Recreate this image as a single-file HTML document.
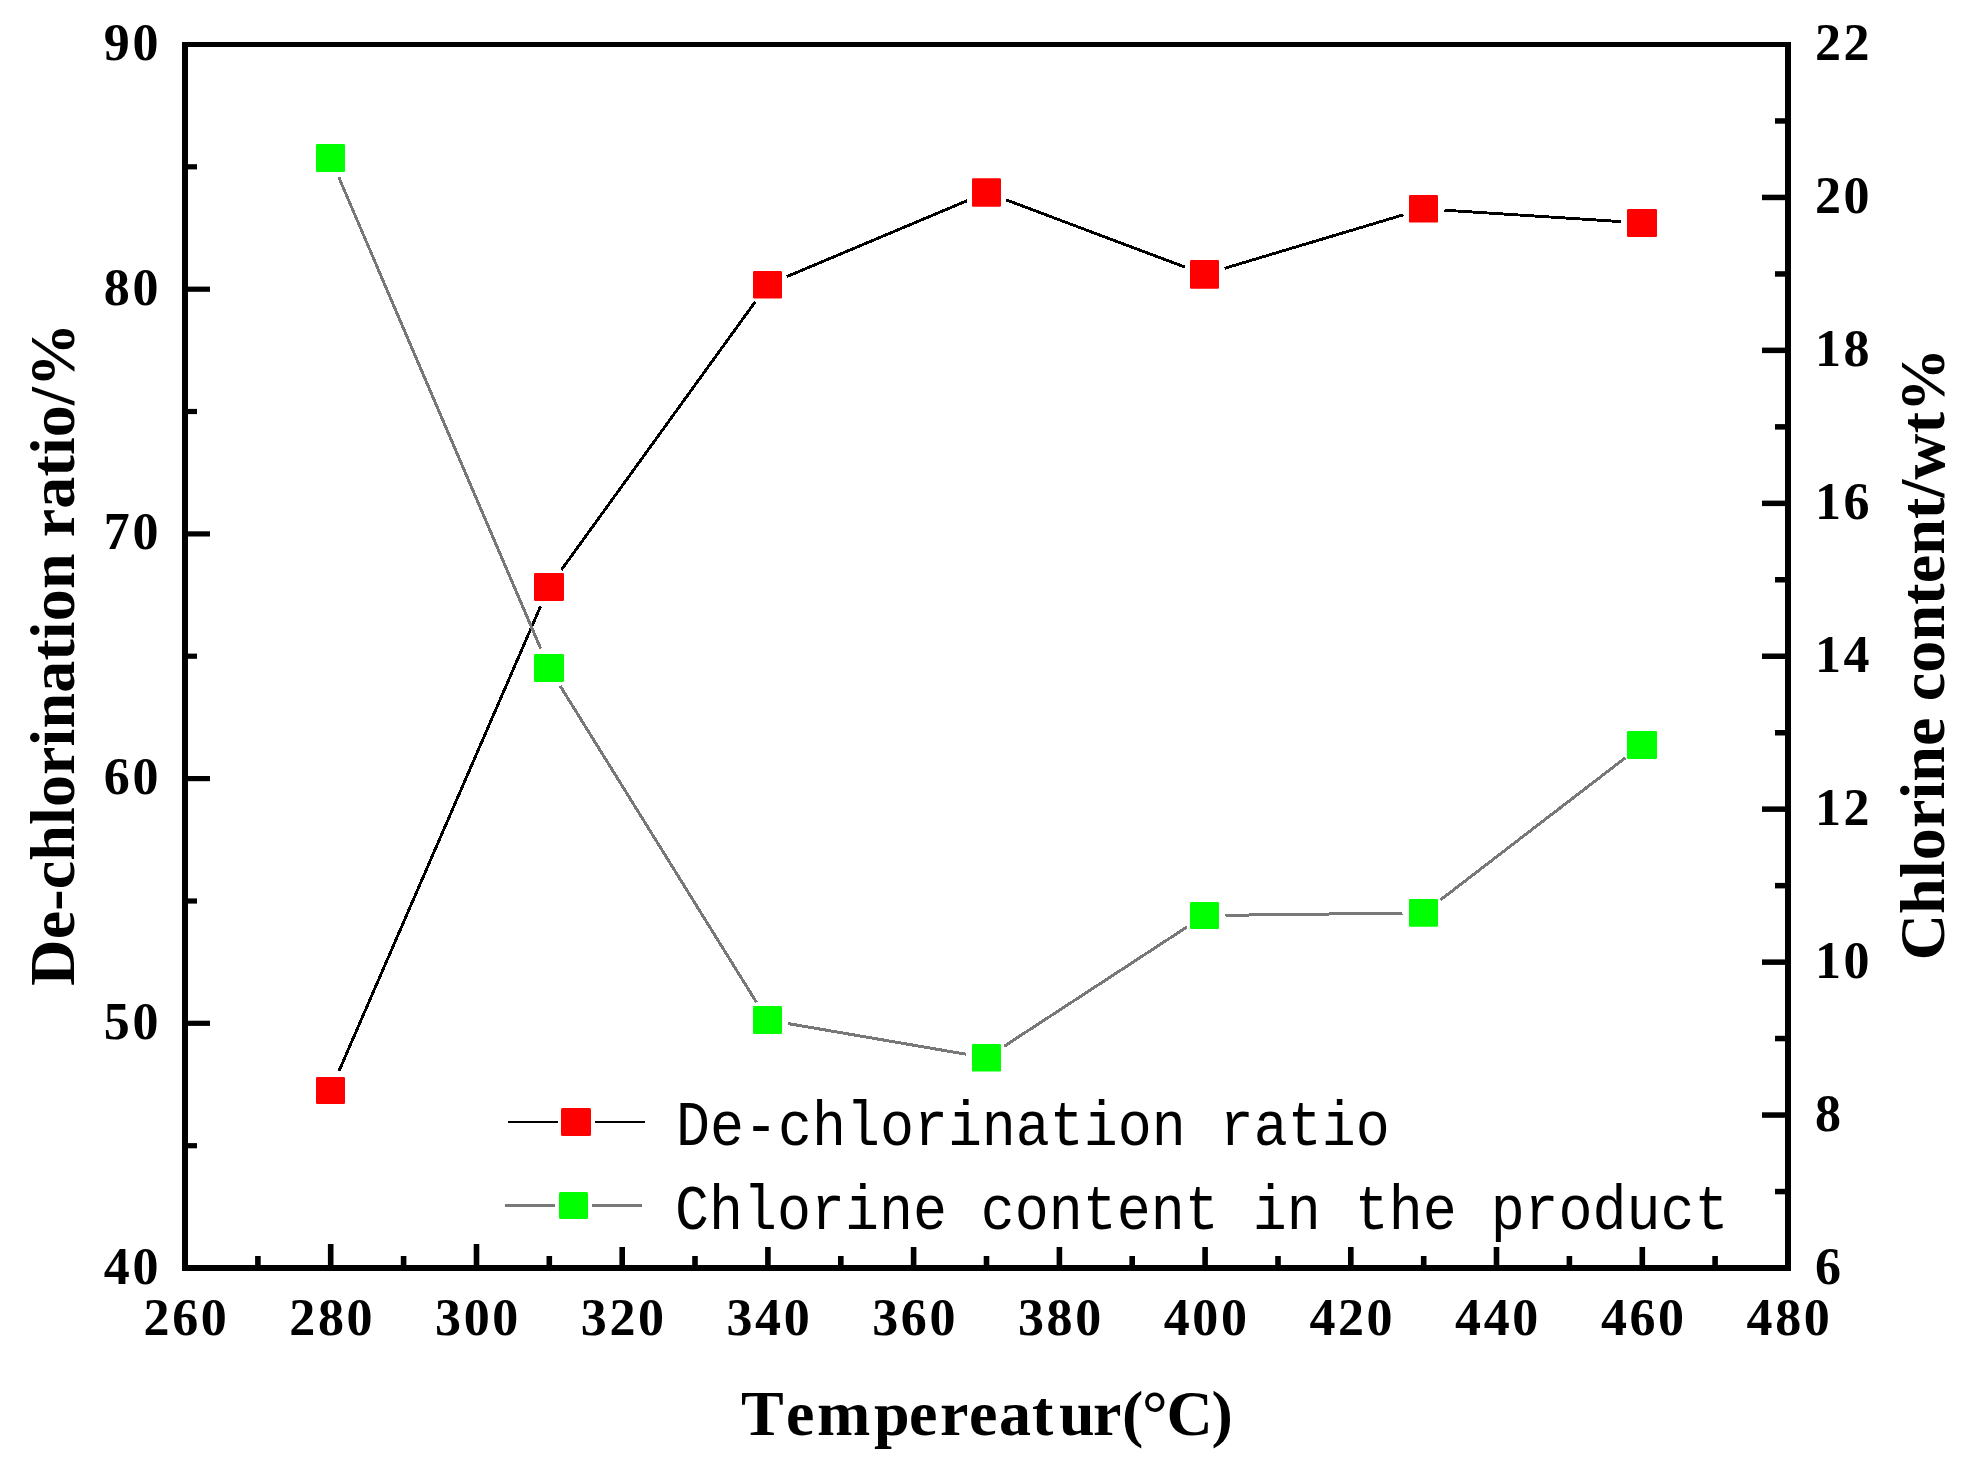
<!DOCTYPE html>
<html lang="en"><head><meta charset="utf-8"><title>De-chlorination ratio and chlorine content vs temperature</title>
<style>
html,body{margin:0;padding:0;background:#fff}
body{width:1977px;height:1474px;overflow:hidden}
svg{display:block}
text{font-family:"Liberation Serif",serif;font-weight:bold;fill:#000;font-kerning:none}
.tk{font-size:52px;letter-spacing:2.6px}
.ti{font-size:64px}
.vt{letter-spacing:.14px}
.lg{font-family:"Liberation Mono",monospace;font-weight:normal;font-size:56.65px}
</style></head><body>
<svg width="1977" height="1474" viewBox="0 0 1977 1474">
<rect width="1977" height="1474" fill="#fff"/>
<g stroke="#000" stroke-width="2.9" stroke-linecap="butt" shape-rendering="crispEdges"><line x1="338.9" y1="1071.2" x2="540.6" y2="606.3"/><line x1="561.3" y1="570.0" x2="755.2" y2="301.8"/><line x1="786.9" y1="276.6" x2="967.1" y2="200.7"/><line x1="1006.2" y1="199.9" x2="1184.8" y2="267.0"/><line x1="1224.6" y1="268.3" x2="1403.4" y2="214.8"/><line x1="1444.5" y1="210.2" x2="1621.0" y2="221.6"/></g>
<g stroke="#787878" stroke-width="3.0" stroke-linecap="butt" shape-rendering="crispEdges"><line x1="338.8" y1="177.3" x2="540.7" y2="648.7"/><line x1="560.1" y1="685.8" x2="756.4" y2="1002.2"/><line x1="788.2" y1="1023.6" x2="965.8" y2="1054.2"/><line x1="1004.1" y1="1046.3" x2="1186.9" y2="927.0"/><line x1="1225.5" y1="915.3" x2="1402.5" y2="913.1"/><line x1="1440.2" y1="900.1" x2="1625.3" y2="757.8"/></g>
<g fill="#f00"><rect x="316" y="1077" width="29" height="27" rx="1.2"/><rect x="534" y="573" width="30" height="28" rx="1.2"/><rect x="753" y="271" width="29" height="27.5" rx="1.2"/><rect x="972" y="178.3" width="29" height="28.5" rx="1.2"/><rect x="1190" y="260" width="29" height="28.7" rx="1.2"/><rect x="1409" y="195" width="29" height="27.6" rx="1.2"/><rect x="1627" y="209" width="30" height="28" rx="1.2"/></g>
<g fill="#0f0"><rect x="316" y="144" width="29" height="28" rx="1.2"/><rect x="534" y="654" width="30" height="28" rx="1.2"/><rect x="753" y="1006" width="29" height="28" rx="1.2"/><rect x="972" y="1044" width="29" height="27.6" rx="1.2"/><rect x="1190" y="902" width="29" height="27" rx="1.2"/><rect x="1409" y="899" width="29" height="27.8" rx="1.2"/><rect x="1627" y="731" width="30" height="28" rx="1.2"/></g>
<g fill="#000">
<rect x="182" y="42" width="6" height="1229"/>
<rect x="1785" y="42" width="6" height="1229"/>
<rect x="182" y="42" width="1609" height="5"/>
<rect x="182" y="1265" width="1609" height="6"/>
<rect x="255.1" y="1256" width="5.6" height="10"/>
<rect x="327.9" y="1244" width="5.6" height="22"/>
<rect x="400.8" y="1256" width="5.6" height="10"/>
<rect x="473.7" y="1244" width="5.6" height="22"/>
<rect x="546.5" y="1256" width="5.6" height="10"/>
<rect x="619.4" y="1247" width="5.6" height="19"/>
<rect x="692.2" y="1256" width="5.6" height="10"/>
<rect x="765.1" y="1247" width="5.6" height="19"/>
<rect x="838.0" y="1256" width="5.6" height="10"/>
<rect x="910.8" y="1247" width="5.6" height="19"/>
<rect x="983.7" y="1256" width="5.6" height="10"/>
<rect x="1056.6" y="1247" width="5.6" height="19"/>
<rect x="1129.4" y="1256" width="5.6" height="10"/>
<rect x="1202.3" y="1247" width="5.6" height="19"/>
<rect x="1275.2" y="1256" width="5.6" height="10"/>
<rect x="1348.0" y="1247" width="5.6" height="19"/>
<rect x="1420.9" y="1256" width="5.6" height="10"/>
<rect x="1493.7" y="1247" width="5.6" height="19"/>
<rect x="1566.6" y="1256" width="5.6" height="10"/>
<rect x="1639.5" y="1247" width="5.6" height="19"/>
<rect x="1712.3" y="1256" width="5.6" height="10"/>
<rect x="187" y="1143.1" width="10" height="5.2"/>
<rect x="187" y="1020.7" width="23" height="5.2"/>
<rect x="187" y="898.4" width="10" height="5.2"/>
<rect x="187" y="776.0" width="23" height="5.2"/>
<rect x="187" y="653.6" width="10" height="5.2"/>
<rect x="187" y="531.3" width="23" height="5.2"/>
<rect x="187" y="408.9" width="10" height="5.2"/>
<rect x="187" y="286.6" width="23" height="5.2"/>
<rect x="187" y="164.2" width="10" height="5.2"/>
<rect x="1775" y="1188.8" width="11" height="5.5"/>
<rect x="1762" y="1112.3" width="24" height="5.5"/>
<rect x="1775" y="1035.8" width="11" height="5.5"/>
<rect x="1762" y="959.4" width="24" height="5.5"/>
<rect x="1775" y="882.9" width="11" height="5.5"/>
<rect x="1762" y="806.4" width="24" height="5.5"/>
<rect x="1775" y="730.0" width="11" height="5.5"/>
<rect x="1762" y="653.5" width="24" height="5.5"/>
<rect x="1775" y="577.0" width="11" height="5.5"/>
<rect x="1762" y="500.6" width="24" height="5.5"/>
<rect x="1775" y="424.1" width="11" height="5.5"/>
<rect x="1762" y="347.6" width="24" height="5.5"/>
<rect x="1775" y="271.2" width="11" height="5.5"/>
<rect x="1762" y="194.7" width="24" height="5.5"/>
<rect x="1775" y="118.2" width="11" height="5.5"/>
</g>
<g class="tk" text-anchor="middle">
<text x="186.5" y="1335">260</text>
<text x="332.2" y="1335">280</text>
<text x="478.0" y="1335">300</text>
<text x="623.7" y="1335">320</text>
<text x="769.4" y="1335">340</text>
<text x="915.1" y="1335">360</text>
<text x="1060.9" y="1335">380</text>
<text x="1206.6" y="1335">400</text>
<text x="1352.3" y="1335">420</text>
<text x="1498.0" y="1335">440</text>
<text x="1643.8" y="1335">460</text>
<text x="1789.5" y="1335">480</text>
</g><g class="tk" text-anchor="end">
<text x="161" y="1283.5">40</text>
<text x="161" y="1038.8">50</text>
<text x="161" y="794.1">60</text>
<text x="161" y="549.4">70</text>
<text x="161" y="304.7">80</text>
<text x="161" y="60.0">90</text>
</g><g class="tk" text-anchor="start">
<text x="1815" y="1283.5">6</text>
<text x="1815" y="1130.6">8</text>
<text x="1815" y="977.6">10</text>
<text x="1815" y="824.7">12</text>
<text x="1815" y="671.8">14</text>
<text x="1815" y="518.8">16</text>
<text x="1815" y="365.9">18</text>
<text x="1815" y="212.9">20</text>
<text x="1815" y="60.0">22</text>
</g>
<text class="ti vt" text-anchor="middle" transform="translate(74 654.3) rotate(-90)">De-chlorination ratio/%</text>
<text class="ti vt" text-anchor="middle" transform="translate(1943.5 654) rotate(-90)">Chlorine content/wt%</text>
<text class="ti" y="1435" x="741 786 817 874 909 940 969 999 1032 1059 1093 1122 1142 1166.6 1211.5">Tempereatur(°C)</text>
<g fill="#000"><rect x="508" y="1121" width="50" height="2"/><rect x="595" y="1121" width="50" height="2"/></g>
<g fill="#787878"><rect x="505" y="1204" width="50" height="3"/><rect x="592" y="1204" width="50" height="3"/></g>
<rect x="561" y="1108" width="30" height="28" rx="1.5" fill="#f00"/>
<rect x="559" y="1192" width="29" height="27" rx="1.5" fill="#0f0"/>
<text class="lg" transform="translate(676 1145) scale(1 1.1)">De-chlorination ratio</text>
<text class="lg" transform="translate(675 1228.5) scale(1 1.1)">Chlorine content in the product</text>
</svg></body></html>
